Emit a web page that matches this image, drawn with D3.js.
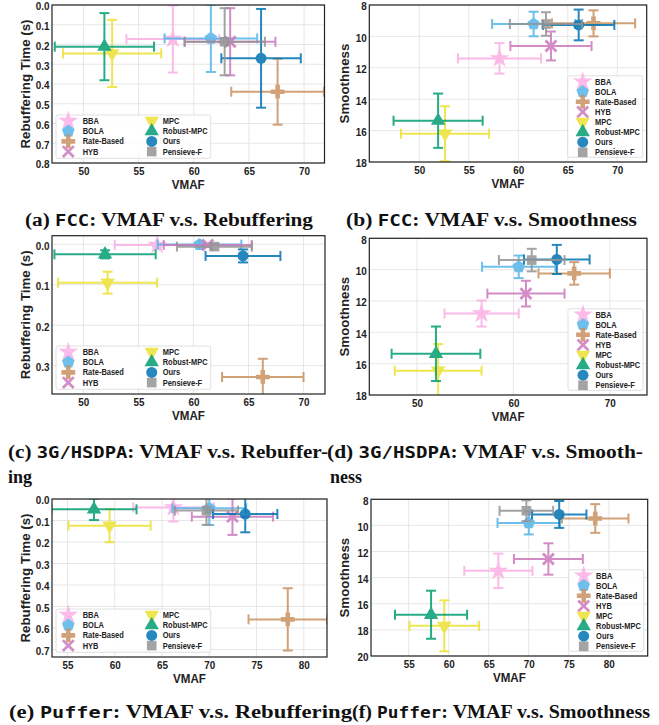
<!DOCTYPE html>
<html>
<head>
<meta charset="utf-8">
<script src="https://cdnjs.cloudflare.com/ajax/libs/d3/7.8.5/d3.min.js"></script>
<style>
    body { margin: 0; background: #fff; }
    svg { display: block; }
    .tick text, .legend text, .axis-title {
        font-family: "Liberation Sans", Arial, sans-serif;
        font-weight: bold;
        fill: #222;
    }
    .caption { font-family: "Liberation Serif", serif; font-weight: bold; fill: #111; }
    .caption .tt { font-family: "DejaVu Sans Mono", monospace; }
</style>
</head>
<body>
<svg id="fig"></svg>
<script>
// methods, drawn in this order (later ones on top)
const methods = ["BBA", "BOLA", "Rate-Based", "HYB", "MPC", "Robust-MPC", "Ours", "Pensieve-F"];
const colors = ["#fbafe4", "#56b4e9", "#ca9161", "#cc78bc", "#ece133", "#029e73", "#0173b2", "#949494"];

// FCC traces
const fccVmaf = [58.1, 61.55, 67.6, 63.3, 52.6, 51.9, 66.1, 62.8];
const fccVmafErr = [4.2, 4.2, 4.2, 4.1, 4.45, 4.5, 3.6, 3.65];
const fccRebuf = [0.172, 0.169, 0.439, 0.186, 0.245, 0.211, 0.27, 0.186];
const fccRebufErr = [0.17, 0.17, 0.167, 0.17, 0.17, 0.17, 0.25, 0.17];
const fccSmooth = [11.4, 9.21, 9.17, 10.61, 16.2, 15.37, 9.27, 9.21];
const fccSmoothErr = [0.97, 0.78, 0.83, 0.92, 1.75, 1.73, 0.98, 0.75];

// 3G/HSDPA traces
const hsdVmaf = [56.7, 60.55, 66.3, 61.3, 52.2, 51.97, 64.5, 61.9];
const hsdVmafErr = [3.85, 3.8, 3.7, 4.0, 4.5, 4.6, 3.4, 3.4];
const hsdRebuf = [0.002, 0.001, 0.328, 0.002, 0.095, 0.025, 0.029, 0.006];
const hsdRebufErr = [0.004, 0.004, 0.045, 0.004, 0.027, 0.01, 0.016, 0.008];
const hsdSmooth = [12.8, 9.82, 10.24, 11.53, 16.45, 15.37, 9.35, 9.39];
const hsdSmoothErr = [0.83, 0.72, 0.72, 0.82, 1.7, 1.74, 0.93, 0.72];

// Puffer traces
const pufVmaf = [66.2, 70.0, 78.3, 72.45, 59.45, 57.8, 73.8, 69.7];
const pufVmafErr = [4.25, 3.9, 4.15, 4.3, 4.35, 4.5, 3.4, 3.35];
const pufRebuf = [0.039, 0.043, 0.56, 0.082, 0.124, 0.048, 0.07, 0.054];
const pufRebufErr = [0.066, 0.078, 0.145, 0.085, 0.077, 0.05, 0.085, 0.066];
const pufSmooth = [13.48, 9.81, 9.47, 12.57, 17.69, 16.84, 9.16, 8.88];
const pufSmoothErr = [1.32, 0.88, 1.1, 1.2, 1.95, 1.84, 1.03, 0.8];

// tick labels
const ticksVmaf = [50, 55, 60, 65, 70];
const ticksVmafWide = [50, 60, 70];
const ticksVmafPuffer = [55, 60, 65, 70, 75, 80];
const ticksRebufFcc = [0, 0.1, 0.2, 0.3, 0.4, 0.5, 0.6, 0.7, 0.8];
const ticksRebufHsd = [0, 0.1, 0.2, 0.3];
const ticksRebufPuf = [0, 0.1, 0.2, 0.3, 0.4, 0.5, 0.6, 0.7];
const ticksSmooth = [8, 10, 12, 14, 16, 18];
const ticksSmoothPuf = [8, 10, 12, 14, 16, 18, 20];

const svg = d3.select('#fig').attr('width', 659).attr('height', 725);
const SQUEEZE = 0.86; // the figure text is a bit narrow

function pentagon(r) {
    let p = d3.path();
    for (let k = 0; k < 5; k++) {
        let a = -Math.PI / 2 + k * 2 * Math.PI / 5;
        if (k === 0) p.moveTo(r * Math.cos(a), r * Math.sin(a));
        else p.lineTo(r * Math.cos(a), r * Math.sin(a));
    }
    p.closePath();
    return p.toString();
}

function drawMarker(g, i, color) {
    let sym;
    if (i === 0) sym = d3.symbol(d3.symbolStar, 120)();
    else if (i === 1) sym = pentagon(6.6);
    else if (i === 2) sym = d3.symbol(d3.symbolCross, 105)();
    else if (i === 3) sym = d3.symbol(d3.symbolX, 80)();
    else if (i === 4) sym = d3.symbol(d3.symbolTriangle, 90)();
    else if (i === 5) sym = d3.symbol(d3.symbolTriangle, 90)();
    else if (i === 6) sym = d3.symbol(d3.symbolCircle, 95)();
    else sym = d3.symbol(d3.symbolSquare, 92)();

    let m = g.append('path').attr('d', sym);
    if (i === 3) {
        m.attr('fill', 'none').attr('stroke', color).attr('stroke-width', 2.8);
    } else {
        m.attr('fill', color);
    }
    if (i === 4) m.attr('transform', 'rotate(180)');
    return m;
}

let panelCount = 0;

class errPanel {
    constructor(_config, _x, _xErr, _y, _yErr) {
        this.config = {
            box: _config.box,           // left, top, right, bottom
            xDomain: _config.xDomain,
            yDomain: _config.yDomain,
            xTicks: _config.xTicks,
            yTicks: _config.yTicks,
            yFormat: _config.yFormat,
            ylabel: _config.ylabel,
            legend: _config.legend
        };
        this.data = methods.map((m, i) => ({
            name: m, idx: i, x: _x[i], xe: _xErr[i], y: _y[i], ye: _yErr[i]
        }));
        this.initVis();
    }

    initVis() {
        let vis = this;
        let [l, t, r, b] = vis.config.box;
        vis.left = l; vis.top = t; vis.right = r; vis.bottom = b;

        vis.xScale = d3.scaleLinear().domain(vis.config.xDomain).range([l, r]);
        vis.yScale = d3.scaleLinear().domain(vis.config.yDomain).range([t, b]);

        vis.g = svg.append('g');

        // grid
        vis.g.append('g').selectAll('line.gx')
            .data(vis.config.xTicks)
            .join('line')
            .attr('x1', d => vis.xScale(d)).attr('x2', d => vis.xScale(d))
            .attr('y1', t).attr('y2', b)
            .attr('stroke', '#e6e6e6').attr('stroke-width', 1);
        vis.g.append('g').selectAll('line.gy')
            .data(vis.config.yTicks)
            .join('line')
            .attr('y1', d => vis.yScale(d)).attr('y2', d => vis.yScale(d))
            .attr('x1', l).attr('x2', r)
            .attr('stroke', '#e6e6e6').attr('stroke-width', 1);

        // axes
        vis.xAxisG = vis.g.append('g')
            .attr('transform', `translate(0, ${b})`)
            .call(d3.axisBottom(vis.xScale).tickValues(vis.config.xTicks).tickSize(0).tickPadding(4))
            .call(g => g.select('.domain').remove());
        vis.yAxisG = vis.g.append('g')
            .attr('transform', `translate(${l}, 0)`)
            .call(d3.axisLeft(vis.yScale).tickValues(vis.config.yTicks)
                .tickFormat(d3.format(vis.config.yFormat)).tickSize(0).tickPadding(3))
            .call(g => g.select('.domain').remove());
        vis.g.selectAll('.tick text')
            .attr('font-size', 11.5)
            .attr('transform', `scale(${SQUEEZE},1)`);
        // keep the top label inside the page
        vis.yAxisG.selectAll('.tick text').attr('dy', '0.42em');

        vis.g.append('text')
            .attr('class', 'axis-title')
            .attr('transform', `translate(${(l + r) / 2}, ${b + 26}) scale(${SQUEEZE},1)`)
            .attr('text-anchor', 'middle')
            .attr('font-size', 13.5)
            .text('VMAF');
        vis.g.append('text')
            .attr('class', 'axis-title')
            .attr('transform', `translate(${l < 100 ? 30 : 349}, ${(t + b) / 2}) rotate(-90)`)
            .attr('text-anchor', 'middle')
            .attr('font-size', 13.3)
            .text(vis.config.ylabel);

        // clip
        let cid = 'clip' + (panelCount++);
        vis.g.append('clipPath').attr('id', cid)
            .append('rect').attr('x', l).attr('y', t).attr('width', r - l).attr('height', b - t);

        let marks = vis.g.append('g').attr('clip-path', `url(#${cid})`);
        let series = marks.selectAll('g.series')
            .data(vis.data)
            .join('g')
            .attr('class', 'series')
            .attr('opacity', 0.85);

        series.each(function(d) {
            let s = d3.select(this);
            let c = colors[d.idx];
            let cx = vis.xScale(d.x), cy = vis.yScale(d.y);
            let x0 = vis.xScale(d.x - d.xe), x1 = vis.xScale(d.x + d.xe);
            let y0 = vis.yScale(d.y - d.ye), y1 = vis.yScale(d.y + d.ye);
            let cap = 5;
            let lines = [
                [x0, cy, x1, cy], [cx, y0, cx, y1],
                [x0, cy - cap, x0, cy + cap], [x1, cy - cap, x1, cy + cap],
                [cx - cap, y0, cx + cap, y0], [cx - cap, y1, cx + cap, y1]
            ];
            s.selectAll('line').data(lines).join('line')
                .attr('x1', e => e[0]).attr('y1', e => e[1])
                .attr('x2', e => e[2]).attr('y2', e => e[3])
                .attr('stroke', c).attr('stroke-width', 2);
            let mg = s.append('g').attr('transform', `translate(${cx},${cy})`);
            drawMarker(mg, d.idx, c);
        });

        // frame
        vis.g.append('rect')
            .attr('x', l).attr('y', t).attr('width', r - l).attr('height', b - t)
            .attr('fill', 'none').attr('stroke', '#222').attr('stroke-width', 1.2);

        vis.drawLegend();
    }

    drawLegend() {
        let vis = this;
        let lg = vis.g.append('g').attr('class', 'legend');
        let bx, by, bw, bh, pos;
        if (vis.config.legend === 'two') {
            bw = 154.7; bh = 43.3;
            bx = vis.left + 4; by = vis.bottom - 4.7 - bh;
            pos = methods.map((m, i) => ({
                mx: bx + (i < 4 ? 12.3 : 95.7),
                tx: bx + (i < 4 ? 26.7 : 106.7),
                y: by + 6 + 10.2 * (i % 4)
            }));
        } else {
            bw = 75; bh = 81.5;
            bx = vis.right - 4 - bw; by = vis.bottom - 4.7 - bh;
            pos = methods.map((m, i) => ({ mx: bx + 15, tx: bx + 27.4, y: by + 5.8 + 10.1 * i }));
        }
        lg.append('rect')
            .attr('x', bx).attr('y', by).attr('width', bw).attr('height', bh)
            .attr('rx', 2)
            .attr('fill', 'rgba(255,255,255,0.85)')
            .attr('stroke', '#d8d8d8').attr('stroke-width', 0.8);
        methods.forEach((m, i) => {
            let mg = lg.append('g')
                .attr('transform', `translate(${pos[i].mx},${pos[i].y})`)
                .attr('opacity', 0.85);
            drawMarker(mg, i, colors[i]);
            lg.append('text')
                .attr('transform', `translate(${pos[i].tx},${pos[i].y + 3}) scale(${SQUEEZE},1)`)
                .attr('font-size', 8.7)
                .text(m);
        });
    }
}

new errPanel({ box: [52, 5, 324.5, 163], xDomain: [47.15, 71.85], yDomain: [0, 0.8],
    xTicks: ticksVmaf, yTicks: ticksRebufFcc, yFormat: '.1f',
    ylabel: 'Rebuffering Time (s)', legend: 'two' }, fccVmaf, fccVmafErr, fccRebuf, fccRebufErr);
new errPanel({ box: [369.3, 5, 646.7, 162], xDomain: [44.95, 72.97], yDomain: [8, 18],
    xTicks: ticksVmaf, yTicks: ticksSmooth, yFormat: 'd',
    ylabel: 'Smoothness', legend: 'one' }, fccVmaf, fccVmafErr, fccSmooth, fccSmoothErr);
new errPanel({ box: [52, 235.7, 325, 394], xDomain: [47.15, 71.95], yDomain: [-0.021, 0.37],
    xTicks: ticksVmaf, yTicks: ticksRebufHsd, yFormat: '.1f',
    ylabel: 'Rebuffering Time (s)', legend: 'two' }, hsdVmaf, hsdVmafErr, hsdRebuf, hsdRebufErr);
new errPanel({ box: [369.3, 238.3, 647, 395], xDomain: [45.06, 73.85], yDomain: [8, 18],
    xTicks: ticksVmafWide, yTicks: ticksSmooth, yFormat: 'd',
    ylabel: 'Smoothness', legend: 'one' }, hsdVmaf, hsdVmafErr, hsdSmooth, hsdSmoothErr);
new errPanel({ box: [52, 499, 327, 657], xDomain: [53.36, 82.45], yDomain: [0, 0.735],
    xTicks: ticksVmafPuffer, yTicks: ticksRebufPuf, yFormat: '.1f',
    ylabel: 'Rebuffering Time (s)', legend: 'two' }, pufVmaf, pufVmafErr, pufRebuf, pufRebufErr);
new errPanel({ box: [371, 499.3, 647.7, 656], xDomain: [50.3, 84.85], yDomain: [8, 20],
    xTicks: ticksVmafPuffer, yTicks: ticksSmoothPuf, yFormat: 'd',
    ylabel: 'Smoothness', legend: 'one' }, pufVmaf, pufVmafErr, pufSmooth, pufSmoothErr);

// sub-captions
function caption(x, y, width, parts) {
    let t = svg.append('text')
        .attr('class', 'caption')
        .attr('x', x).attr('y', y)
        .attr('font-size', 18);
    parts.forEach(p => {
        t.append('tspan').attr('class', p[1] ? 'tt' : null)
            .attr('font-size', p[1] ? 16 : 18)
            .text(p[0]);
    });
    if (width) t.attr('textLength', width).attr('lengthAdjust', 'spacingAndGlyphs');
}

caption(25, 226, 288, [['(a) ', 0], ['FCC', 1], [': VMAF v.s. Rebuffering', 0]]);
caption(346, 226, 291, [['(b) ', 0], ['FCC', 1], [': VMAF v.s. Smoothness', 0]]);
caption(8, 458, 320, [['(c) ', 0], ['3G/HSDPA', 1], [': VMAF v.s. Rebuffer-', 0]]);
caption(8, 483, null, [['ing', 0]]);
caption(327, 458, 316, [['(d) ', 0], ['3G/HSDPA', 1], [': VMAF v.s. Smooth-', 0]]);
caption(330, 483, null, [['ness', 0]]);
caption(9, 718, 343, [['(e) ', 0], ['Puffer', 1], [': VMAF v.s. Rebuffering', 0]]);
caption(352, 718, 298, [['(f) ', 0], ['Puffer', 1], [': VMAF v.s. Smoothness', 0]]);
</script>
</body>
</html>
